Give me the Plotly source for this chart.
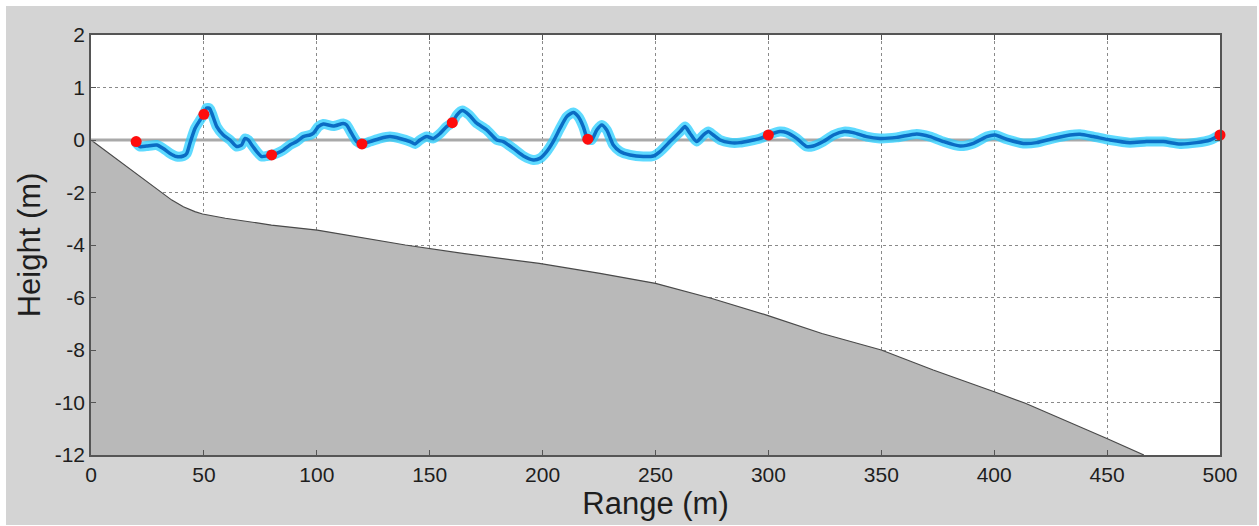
import plotly.graph_objects as go

# ---------------- data ----------------
# Free-surface elevation (m) along range (m)
wave_x = [19.5, 21.7, 24.6, 29.1, 32.0, 35.0, 37.9, 40.9, 42.4, 43.8, 46.1, 48.3, 50.0, 51.2, 52.5,
          53.5, 55.7, 58.6, 61.6, 64.5, 66.7, 68.2, 69.7, 71.2, 73.4, 75.6, 77.8, 80.0, 82.2, 85.2,
          88.1, 91.1, 94.0, 97.0, 98.4, 100.7, 102.9, 107.3, 111.7, 113.2, 115.4, 117.7, 120.0,
          123.6, 128.0, 132.4, 136.8, 141.3, 143.5, 145.7, 148.7, 151.6, 154.6, 157.5, 160.0,
          162.0, 164.5, 167.5, 170.5, 175.3, 179.7, 182.6, 187.0, 191.5, 195.9, 198.8, 201.8,
          204.7, 207.7, 210.7, 213.6, 215.8, 218.0, 219.5, 220.0, 221.7, 224.0, 226.2, 228.4,
          231.3, 234.3, 238.7, 244.6, 249.0, 252.0, 256.4, 260.9, 263.1, 265.3, 268.2, 271.2,
          273.4, 275.6, 278.6, 283.0, 287.4, 291.9, 296.3, 300.0, 305.1, 308.1, 312.5, 316.9,
          319.9, 324.3, 328.8, 333.5, 337.6, 343.5, 349.4, 356.8, 365.7, 371.6, 377.5, 384.9,
          390.8, 396.7, 400.4, 405.5, 412.9, 418.8, 426.2, 433.6, 438.0, 443.9, 451.3, 460.1,
          467.5, 474.9, 482.3, 489.7, 495.6, 500.0]
wave_h = [-0.03, -0.125, -0.115, -0.095, -0.16, -0.255, -0.315, -0.305, -0.255, -0.065, 0.225, 0.38,
          0.49, 0.61, 0.60, 0.51, 0.255, 0.095, 0.0, -0.125, -0.095, 0.03, 0.0, -0.095, -0.22,
          -0.315, -0.305, -0.285, -0.255, -0.19, -0.095, -0.03, 0.065, 0.095, 0.125, 0.255, 0.305,
          0.265, 0.315, 0.285, 0.125, -0.03, -0.075, -0.03, 0.03, 0.065, 0.03, -0.03, -0.075, 0.0,
          0.065, 0.03, 0.125, 0.255, 0.33, 0.475, 0.56, 0.475, 0.33, 0.19, 0.0, -0.03, -0.16,
          -0.305, -0.38, -0.35, -0.22, -0.03, 0.22, 0.445, 0.525, 0.445, 0.255, 0.05, 0.015, 0.0,
          0.19, 0.285, 0.19, -0.095, -0.22, -0.285, -0.315, -0.305, -0.22, -0.03, 0.16, 0.255,
          0.125, -0.03, 0.095, 0.16, 0.095, 0.0, -0.05, -0.05, -0.015, 0.03, 0.095, 0.16, 0.14,
          0.03, -0.125, -0.115, -0.03, 0.095, 0.16, 0.14, 0.065, 0.03, 0.05, 0.115, 0.065, -0.03,
          -0.115, -0.065, 0.065, 0.095, 0.015, -0.065, -0.05, 0.03, 0.095, 0.11, 0.065, 0.0, -0.05,
          -0.03, -0.03, -0.075, -0.05, 0.0, 0.095]

# Gauge / measurement points
gauge_x = [20, 50, 80, 120, 160, 220, 300, 500]
gauge_h = [-0.03, 0.49, -0.285, -0.075, 0.33, 0.015, 0.095, 0.095]

# Bathymetry profile (m)
bed_x = [0, 30.7, 35.8, 40.9, 46.0, 49.4, 59.5, 79.9, 100.2, 139.2, 164.6, 198.5, 225.4, 250.0,
         274.6, 299.2, 323.7, 350.0, 373.0, 400.0, 413.8, 449.9, 466.3]
bed_y = [0, -1.97, -2.29, -2.54, -2.73, -2.82, -2.98, -3.24, -3.43, -4.0, -4.32, -4.70, -5.08,
         -5.46, -6.03, -6.67, -7.37, -8.0, -8.76, -9.59, -10.03, -11.37, -12.0]

# Axis ticks: the part above zero is drawn with a 2x vertical exaggeration
x_ticks = [0, 50, 100, 150, 200, 250, 300, 350, 400, 450, 500]
y_tick_pos = [4, 2, 0, -2, -4, -6, -8, -10, -12]
y_tick_text = ["2", "1", "0", "-2", "-4", "-6", "-8", "-10", "-12"]
WAVE_SCALE = 2.0
Y_BOTTOM = -12

# ---------------- figure ----------------
FONT = "Liberation Sans, Arial, Helvetica, sans-serif"
W, H = 1259, 526
L, R, T, B = 91, 39, 35, 71
pw, ph = W - L - R, H - T - B

fig = go.Figure()

# seabed fill
fig.add_trace(go.Scatter(
    x=bed_x + [bed_x[-1], bed_x[0]],
    y=bed_y + [Y_BOTTOM, Y_BOTTOM],
    fill="toself", fillcolor="#b9b9b9", mode="lines",
    line=dict(width=0), hoverinfo="skip", showlegend=False))
# seabed edge
fig.add_trace(go.Scatter(x=bed_x, y=bed_y, mode="lines",
                         line=dict(color="#4a4a4a", width=1.2), showlegend=False))
# still water line
fig.add_trace(go.Scatter(x=[0, 500], y=[0, 0], mode="lines",
                         line=dict(color="#a9a9a9", width=3), showlegend=False))

wave_plot = [h * WAVE_SCALE for h in wave_h]
# glow
fig.add_trace(go.Scatter(x=wave_x, y=wave_plot, mode="lines",
                         line=dict(color="rgba(40,205,255,0.75)", width=10, shape="spline", smoothing=0.6),
                         showlegend=False))
# core
fig.add_trace(go.Scatter(x=wave_x, y=wave_plot, mode="lines",
                         line=dict(color="#0b6cc4", width=3.5, shape="spline", smoothing=0.6),
                         showlegend=False))
# gauges
fig.add_trace(go.Scatter(x=gauge_x, y=[h * WAVE_SCALE for h in gauge_h], mode="markers",
                         marker=dict(color="#ff0d0d", size=11, line=dict(width=0)),
                         cliponaxis=False, showlegend=False))

axis_common = dict(
    showgrid=True, gridcolor="#8a8a8a", griddash="dot", gridwidth=1,
    ticks="inside", ticklen=5, tickcolor="#555555", tickwidth=1,
    showline=True, linecolor="#555555", linewidth=1.5, mirror="ticks",
    zeroline=False, tickfont=dict(family=FONT, size=21, color="#1e1e1e"),
)

fig.update_xaxes(range=[0, 500], tickvals=x_ticks, ticktext=[str(v) for v in x_ticks],
                 title=dict(text="Range (m)", font=dict(family=FONT, size=31, color="#1e1e1e"),
                            standoff=0),
                 **axis_common)
fig.update_yaxes(range=[Y_BOTTOM, 4], tickvals=y_tick_pos, ticktext=y_tick_text,
                 title=dict(text="Height (m)", font=dict(family=FONT, size=31, color="#1e1e1e"),
                            standoff=5),
                 **axis_common)

# white strips around the grey figure area (as in the screenshot)
def px_x(p):
    return (p - L) / pw

def px_y(p):
    return 1 - (p - T) / ph

shapes = []
for x0, x1, y0, y1 in [(0, W, 0, 6), (0, 6, 0, H), (1257, W, 0, H), (0, W, 525, H)]:
    shapes.append(dict(type="rect", xref="paper", yref="paper",
                       x0=px_x(x0), x1=px_x(x1), y0=px_y(y1), y1=px_y(y0),
                       fillcolor="white", line=dict(width=0), layer="above"))

fig.update_layout(
    width=W, height=H,
    margin=dict(l=L, r=R, t=T, b=B, autoexpand=False),
    paper_bgcolor="#d4d4d4", plot_bgcolor="white",
    shapes=shapes, showlegend=False,
    font=dict(family=FONT),
)

fig.write_html("out.html",
               config={"displayModeBar": False},
               post_script="document.body.style.margin='0px';document.body.style.overflow='hidden';")
